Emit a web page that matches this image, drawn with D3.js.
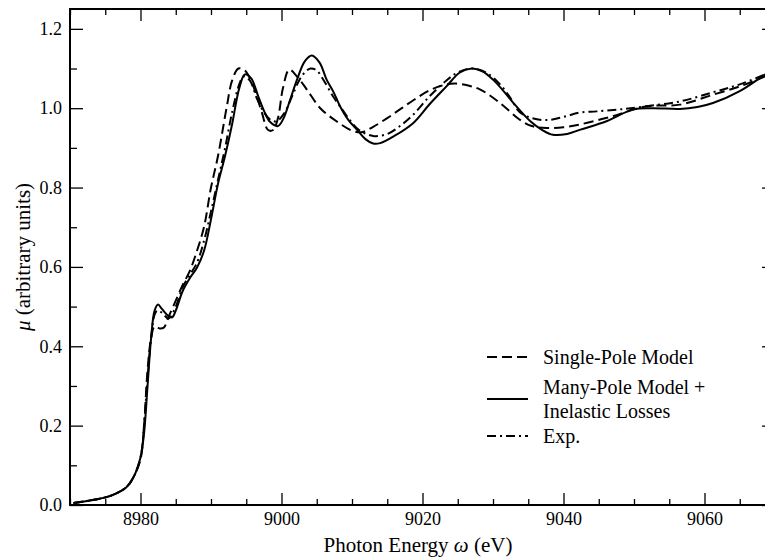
<!DOCTYPE html>
<html><head><meta charset="utf-8">
<script src="https://cdn.jsdelivr.net/npm/d3@7"></script>
<style>
html body svg#c text, html body svg#c tspan, html body svg#c g text { font-family: "Liberation Serif" !important; }
</style>
</head><body style="margin:0;background:#fff"><svg id="c" width="765" height="558" style="display:block;font-family:'Liberation Serif'"></svg>
<script>
const xTicks = [8980, 9000, 9020, 9040, 9060];
const yTicks = [0.0, 0.2, 0.4, 0.6, 0.8, 1.0, 1.2];
const seriesNames = ["Single-Pole Model", "Many-Pole Model +|Inelastic Losses", "Exp."];

const singleE = [8970.5,8972,8974,8976,8978,8979,8980,8980.5,8981,8981.5,8982,8982.7,8983.3,8984,8985,8986,8987,8988,8989,8990,8991,8992.2,8993,8993.9,8994.8,8995.8,8996.5,8997.2,8998.1,8998.8,8999.5,9000.2,9001.1,9002.2,9003.6,9005.5,9007.8,9010.2,9011.5,9013,9015,9016.8,9018.7,9021,9023.4,9024.8,9026.5,9028.2,9031,9033.8,9035.5,9037.6,9040,9042.3,9047,9051.8,9056.5,9061.2,9065,9068.6,9070];
const singleMu = [0.005,0.009,0.015,0.025,0.045,0.07,0.115,0.2,0.34,0.42,0.45,0.445,0.447,0.475,0.515,0.555,0.59,0.64,0.70,0.80,0.88,1.0,1.07,1.10,1.095,1.064,1.03,0.99,0.945,0.945,0.975,1.05,1.097,1.08,1.047,1.0,0.967,0.942,0.94,0.953,0.975,0.997,1.02,1.045,1.06,1.062,1.057,1.047,1.013,0.971,0.955,0.95,0.952,0.959,0.98,1.005,1.009,1.034,1.055,1.08,1.09];

const manyE = [8970.5,8972,8974,8976,8978,8979,8980,8980.5,8981,8981.5,8982,8982.5,8983,8984,8984.5,8985,8986,8987,8988,8989,8990,8991,8992,8993,8994,8994.8,8995.7,8996.7,8997.6,8998.4,8999.5,9000.3,9001.2,9002.2,9003.3,9004.3,9005.4,9006.4,9007.4,9008.3,9009.5,9010.7,9011.9,9013,9014,9016,9018.7,9021,9023.4,9025.3,9027,9028.5,9030,9031.5,9032.9,9035.3,9037,9038.5,9040.5,9042.4,9046.1,9049.9,9052.7,9056.5,9059,9061.2,9065,9068.6,9070];
const manyMu = [0.005,0.009,0.015,0.025,0.045,0.07,0.12,0.18,0.30,0.42,0.49,0.505,0.495,0.476,0.473,0.49,0.54,0.572,0.598,0.64,0.72,0.81,0.88,0.96,1.05,1.085,1.075,1.03,0.99,0.965,0.955,0.975,1.02,1.072,1.118,1.133,1.115,1.072,1.04,1.005,0.97,0.946,0.922,0.911,0.912,0.93,0.963,1.01,1.055,1.09,1.10,1.093,1.072,1.043,1.013,0.967,0.945,0.933,0.935,0.946,0.967,0.997,1.0,0.998,1.003,1.013,1.043,1.085,1.1];

const expE = [8970.5,8972,8974,8976,8978,8979,8980,8980.5,8981,8981.5,8982,8982.4,8983,8984,8985,8986,8987,8988,8989,8990,8991,8992,8993,8994,8994.6,8995.5,8996.5,8997.5,8998.5,8999.3,9000.3,9001.5,9002.5,9003.3,9004.1,9005,9006,9007.3,9008.5,9009.7,9011,9013,9015,9016.8,9018.7,9021,9023.4,9025,9027,9029,9031,9032.5,9033.8,9035.5,9037.6,9040,9042.3,9044.7,9048,9051.8,9056.5,9061.2,9065,9068.6,9070];
const expMu = [0.005,0.009,0.015,0.025,0.045,0.07,0.12,0.2,0.32,0.42,0.48,0.49,0.485,0.47,0.5,0.55,0.58,0.61,0.665,0.74,0.82,0.9,0.99,1.06,1.08,1.07,1.025,0.99,0.97,0.967,0.985,1.03,1.07,1.09,1.10,1.095,1.07,1.03,1.0,0.97,0.945,0.93,0.935,0.955,0.984,1.03,1.07,1.09,1.10,1.09,1.06,1.025,0.99,0.975,0.97,0.978,0.989,0.992,0.997,1.005,1.017,1.04,1.06,1.085,1.095];

const FONT = "Liberation Serif";
const L = 70, R = 775, T = 9, B = 505;
const svg = d3.select("#c");
const x = d3.scaleLinear().domain([8970, 9070]).range([L, R]);
const y = d3.scaleLinear().domain([0, 1.25]).range([B, T]);

function serif(sel, size) {
  sel.attr("font-family", FONT).style("font-family", FONT, "important");
  if (size) sel.attr("font-size", size).style("font-size", size + "px", "important");
  return sel;
}

svg.append("defs").append("clipPath").attr("id","clip").append("rect")
  .attr("x", L).attr("y", T).attr("width", R - L).attr("height", B - T);

const styles = [
  {dash: "10,5"},
  {dash: null},
  {dash: "9,4,2,4"}
];
const data = [
  d3.zip(singleE, singleMu),
  d3.zip(manyE, manyMu),
  d3.zip(expE, expMu)
];
const line = d3.line().x(d => x(d[0])).y(d => y(d[1])).curve(d3.curveCatmullRom.alpha(0.5));
const g = svg.append("g").attr("clip-path", "url(#clip)");
data.forEach((d, i) => {
  g.append("path").attr("d", line(d)).attr("fill", "none").attr("stroke", "#000")
   .attr("stroke-width", 2).attr("stroke-dasharray", styles[i].dash);
});

// axes
const minorX = d3.range(8970, 9071, 5).filter(v => !xTicks.includes(v));
const minorY = d3.range(0, 1.25, 0.1).map(v => +v.toFixed(2)).filter(v => !yTicks.some(t => Math.abs(t - v) < 1e-6));
function styleAxis(sel) {
  serif(sel, 18);
  sel.selectAll(".domain").remove();
  sel.selectAll("line").attr("stroke", "#000").attr("stroke-width", 1.3);
  sel.selectAll("text").attr("fill", "#000").call(serif, 18);
}
svg.append("g").attr("transform", `translate(0,${B})`)
  .call(d3.axisBottom(x).tickValues(xTicks).tickSize(-12).tickPadding(7).tickFormat(d3.format("d"))).call(styleAxis);
svg.append("g").attr("transform", `translate(0,${B})`)
  .call(d3.axisBottom(x).tickValues(minorX).tickSize(-6).tickFormat("")).call(styleAxis);
svg.append("g").attr("transform", `translate(0,${T})`)
  .call(d3.axisTop(x).tickValues(xTicks).tickSize(-12).tickFormat("")).call(styleAxis);
svg.append("g").attr("transform", `translate(0,${T})`)
  .call(d3.axisTop(x).tickValues(minorX).tickSize(-6).tickFormat("")).call(styleAxis);
svg.append("g").attr("transform", `translate(${L},0)`)
  .call(d3.axisLeft(y).tickValues(yTicks).tickSize(-13).tickPadding(8).tickFormat(d3.format(".1f"))).call(styleAxis);
svg.append("g").attr("transform", `translate(${L},0)`)
  .call(d3.axisLeft(y).tickValues(minorY).tickSize(-7).tickFormat("")).call(styleAxis);
svg.append("g").attr("transform", `translate(${R},0)`)
  .call(d3.axisRight(y).tickValues(yTicks).tickSize(-13).tickFormat("")).call(styleAxis);
svg.append("g").attr("transform", `translate(${R},0)`)
  .call(d3.axisRight(y).tickValues(minorY).tickSize(-7).tickFormat("")).call(styleAxis);

// frame
svg.append("rect").attr("x", L).attr("y", T).attr("width", R - L).attr("height", B - T)
  .attr("fill", "none").attr("stroke", "#000").attr("stroke-width", 2);

// axis labels
const xl = svg.append("text").attr("x", 418).attr("y", 552).attr("text-anchor", "middle").call(serif, 21);
xl.append("tspan").text("Photon Energy ");
xl.append("tspan").attr("font-style", "italic").style("font-style", "italic").text("ω");
xl.append("tspan").text(" (eV)");
const yl = svg.append("text").attr("transform", "translate(30,257) rotate(-90)").attr("text-anchor", "middle").call(serif, 21);
yl.append("tspan").attr("font-style", "italic").style("font-style", "italic").text("μ");
yl.append("tspan").text(" (arbitrary units)");

// legend
const lg = svg.append("g");
const rows = [{y: 357, ly: 357}, {y: 387, ly: 399}, {y: 436, ly: 436}];
seriesNames.forEach((name, i) => {
  lg.append("line").attr("x1", 487).attr("x2", 528).attr("y1", rows[i].ly).attr("y2", rows[i].ly)
    .attr("stroke", "#000").attr("stroke-width", 2).attr("stroke-dasharray", styles[i].dash);
  const parts = name.split("|");
  parts.forEach((p, j) => {
    lg.append("text").attr("x", 543).attr("y", rows[i].y + j * 24).attr("dy", "0.35em")
      .call(serif, 20).text(p);
  });
});
</script></body></html>
